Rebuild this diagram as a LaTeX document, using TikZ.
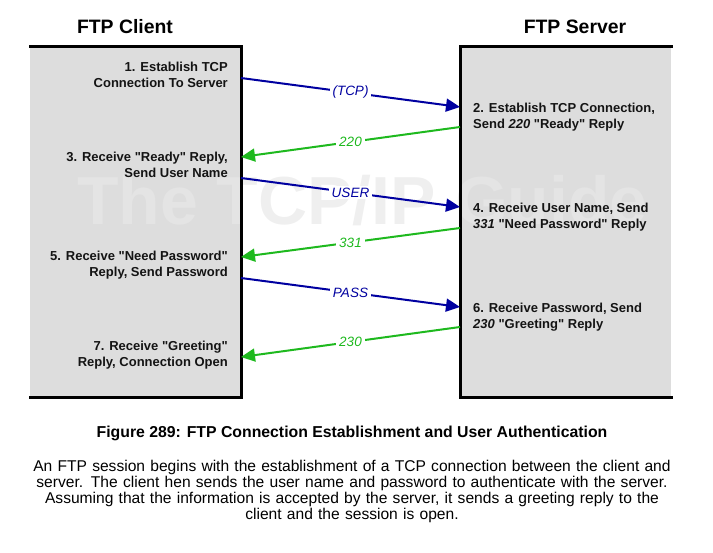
\documentclass[tikz,border=0pt]{standalone}
\usepackage{fontspec}
\setmainfont{Liberation Sans}
\usetikzlibrary{arrows.meta}
\definecolor{boxgray}{RGB}{221,221,221}
\definecolor{reqblue}{RGB}{0,0,160}
\definecolor{repgreen}{RGB}{30,185,30}
\definecolor{inkblack}{RGB}{20,20,20}
\definecolor{wmonbox}{RGB}{228,228,228}
\definecolor{wmonwhite}{RGB}{239,239,239}
\newcommand{\qt}{\XeTeXglyph\XeTeXcharglyph"0022\relax}
\newcommand{\dq}[1]{\qt#1\qt}
\begin{document}
\begin{tikzpicture}[x=1pt,y=-1pt,
  boxfill/.style={fill=boxgray,draw=none},
  border/.style={draw=black,line width=3pt,line cap=rect},
  title/.style={font=\bfseries\fontsize{19.4}{21}\selectfont,inner sep=0},
  clienttext/.style={font=\bfseries\fontsize{13}{16}\selectfont,align=right,anchor=east,inner sep=0,text=inkblack},
  servertext/.style={font=\bfseries\fontsize{13}{16}\selectfont,align=left,anchor=west,inner sep=0,text=inkblack},
  req/.style={draw=reqblue,line width=2pt,-{Triangle[length=14pt,width=13pt]}},
  rep/.style={draw=repgreen,line width=2pt,-{Triangle[length=14pt,width=13pt]}},
  reqlabel/.style={fill=white,text=reqblue,font=\itshape\fontsize{13.5}{13.5}\selectfont,inner xsep=3pt,inner ysep=2pt},
  replabel/.style={fill=white,text=repgreen,font=\itshape\fontsize{13.5}{13.5}\selectfont,inner xsep=3pt,inner ysep=2pt},
  caption/.style={font=\bfseries\fontsize{15.8}{17}\selectfont,inner sep=0},
  bodytext/.style={font=\fontsize{15.6}{16}\selectfont,align=center,inner sep=0,text width=710pt},
  watermark/.style={font=\bfseries\fontsize{68}{68}\selectfont,inner sep=0,anchor=base west}
]
\useasboundingbox (0,0) rectangle (713,553);
% boxes
\fill[boxfill] (30,47) rectangle (241,398);
\fill[boxfill] (460,47) rectangle (671,398);
% watermark
\begin{scope}
  \clip (30,47) rectangle (241,398) (460,47) rectangle (671,398);
  \node[watermark,text=wmonbox] (wm1) at (77,225) {The TCP/IP Guide};
\end{scope}
\begin{scope}
  \clip (241,0) rectangle (460,420);
  \node[watermark,text=wmonwhite] (wm2) at (77,225) {The TCP/IP Guide};
\end{scope}
\draw[border] (30,47) -- (241,47) -- (241,398) -- (30,398);
\draw[border] (671,47) -- (460,47) -- (460,398) -- (671,398);
% titles
\node[title] (tc) at (125,27) {FTP Client};
\node[title] (ts) at (575,27) {FTP Server};
% client texts
\node[clienttext] (s1) at (228,75) {1. Establish TCP\\Connection To Server};
\node[clienttext] (s3) at (228,165) {3. Receive \dq{Ready} Reply,\\Send User Name};
\node[clienttext] (s5) at (228,265) {5. Receive \dq{Need Password}\\Reply, Send Password};
\node[clienttext] (s7) at (228,355) {7. Receive \dq{Greeting}\\Reply, Connection Open};
% server texts
\node[servertext] (s2) at (473,117) {2. Establish TCP Connection,\\Send \textit{220} \dq{Ready} Reply};
\node[servertext] (s4) at (473,217) {4. Receive User Name, Send\\\textit{331} \dq{Need Password} Reply};
\node[servertext] (s6) at (473,317) {6. Receive Password, Send\\\textit{230} \dq{Greeting} Reply};
% endpoints
\coordinate (a1) at (241,78);  \coordinate (b1) at (460,107);
\coordinate (b2) at (460,127); \coordinate (a2) at (241,157);
\coordinate (a3) at (241,178); \coordinate (b3) at (460,207);
\coordinate (b4) at (460,228); \coordinate (a4) at (241,257);
\coordinate (a5) at (241,278); \coordinate (b5) at (460,307);
\coordinate (b6) at (460,327); \coordinate (a6) at (241,357);
% messages
\draw[req] (a1) -- node[reqlabel] (m1) {(TCP)} (b1);
\draw[rep] (b2) -- node[replabel] (m2) {220} (a2);
\draw[req] (a3) -- node[reqlabel] (m3) {USER} (b3);
\draw[rep] (b4) -- node[replabel] (m4) {331} (a4);
\draw[req] (a5) -- node[reqlabel] (m5) {PASS} (b5);
\draw[rep] (b6) -- node[replabel] (m6) {230} (a6);
% caption
\node[caption] (cap) at (352,433) {Figure 289: FTP Connection Establishment and User Authentication};
\node[bodytext] (body) at (352,491) {An FTP session begins with the establishment of a TCP connection between the client and\\server. The client hen sends the user name and password to authenticate with the server.\\Assuming that the information is accepted by the server, it sends a greeting reply to the\\client and the session is open.};
\end{tikzpicture}
\end{document}
